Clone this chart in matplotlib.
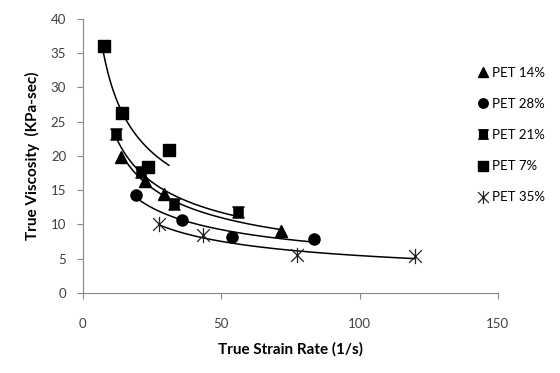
import numpy as np
import matplotlib.pyplot as plt
from matplotlib.path import Path

plt.rcParams['font.family'] = ['Lato', 'DejaVu Sans']

# strain rate (1/s) and viscosity (KPa-sec) per blend
x_14 = [13.9, 22.3, 29.5, 71.7]
y_14 = [19.8, 16.4, 14.5, 9.1]

x_28 = [19.3, 35.8, 53.9, 83.7]
y_28 = [14.3, 10.6, 8.2, 7.9]

x_21 = [12.1, 21.1, 33.1, 56.0]
y_21 = [23.2, 17.6, 13.0, 11.8]

x_7 = [7.5, 14.0, 23.5, 31.1]
y_7 = [36.1, 26.2, 18.4, 20.9]

x_35 = [27.4, 43.4, 77.3, 119.9]
y_35 = [10.0, 8.4, 5.5, 5.35]

labels = ['PET 14%', 'PET 28%', 'PET 21%', 'PET 7%', 'PET 35%']

# square with slightly pinched sides
ibeam = Path([(-1, -1), (1, -1), (0.82, -0.75), (0.82, 0.75), (1, 1), (-1, 1),
              (-0.82, 0.75), (-0.82, -0.75), (-1, -1)],
             [Path.MOVETO] + [Path.LINETO] * 7 + [Path.CLOSEPOLY])
# asterisk: X plus a vertical bar
star = Path([(-1, -1), (1, 1), (-1, 1), (1, -1), (0, -1.2), (0, 1.2)],
            [Path.MOVETO, Path.LINETO] * 3)

series = [
    (x_14, y_14, dict(marker='^', ms=8)),
    (x_28, y_28, dict(marker='o', ms=8)),
    (x_21, y_21, dict(marker=ibeam, ms=8)),
    (x_7, y_7, dict(marker='s', ms=8)),
    (x_35, y_35, dict(marker=star, ms=11, mew=0.9, mfc='none', mec='#222222')),
]

fig = plt.figure(figsize=(5.6, 3.73), dpi=100)
ax = fig.add_axes([0.148, 0.2145, 0.741, 0.735])

for (xs, ys, style), lab in zip(series, labels):
    xs = np.array(xs)
    ys = np.array(ys)
    # power trendline y = a * x^b
    b, loga = np.polyfit(np.log(xs), np.log(ys), 1)
    xf = np.linspace(xs.min(), xs.max(), 200)
    ax.plot(xf, np.exp(loga) * xf ** b, color='black', lw=1.1, zorder=2)
    kw = dict(color='black', ls='none')
    kw.update(style)
    ax.plot(xs, ys, label=lab, zorder=3, **kw)

ax.set_xlim(0, 150)
ax.set_ylim(0, 40)
ax.set_xticks([0, 50, 100, 150])
ax.set_yticks(range(0, 41, 5))

for side in ['top', 'right']:
    ax.spines[side].set_visible(False)
for side in ['left', 'bottom']:
    ax.spines[side].set_color('#888888')
ax.tick_params(colors='#888888', labelcolor='#404040', labelsize=9.5, length=4)
ax.tick_params(axis='x', pad=14)
ax.tick_params(axis='y', pad=8)

ax.set_xlabel('True Strain Rate (1/s)', fontsize=11, fontweight='bold', labelpad=9)
ax.set_ylabel('True Viscosity  (KPa-sec)', fontsize=11, fontweight='bold', labelpad=8)

fig.legend(loc='upper left', bbox_to_anchor=(0.843, 0.835), frameon=False,
           fontsize=9.5, labelspacing=1.45, handlelength=0.8, handletextpad=0.3,
           markerscale=0.85, borderaxespad=0)

fig.savefig('out.png', dpi=100)
